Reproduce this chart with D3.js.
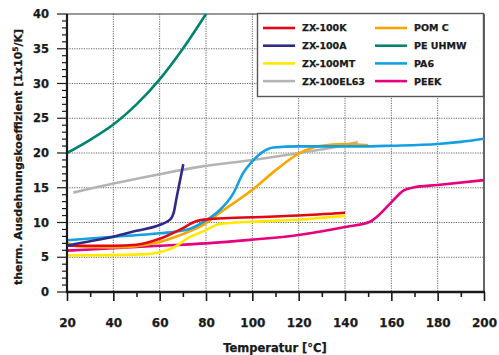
<!DOCTYPE html>
<html>
<head>
<meta charset="utf-8">
<script src="https://cdn.jsdelivr.net/npm/d3@7"></script>
<style>
  html, body { margin: 0; padding: 0; background: #fff; }
  svg { display: block; }
  text { font-family: "DejaVu Sans", sans-serif; font-weight: bold; fill: #1a1a1a; stroke: #1a1a1a; stroke-width: 0.25px; }
</style>
</head>
<body>
<svg id="chart" width="499" height="355"></svg>
<script>
// Series: [temperature °C, coefficient 1e-5/K]
const seriesNames = ["ZX-100K", "ZX-100A", "ZX-100MT", "ZX-100EL63", "POM C", "PE UHMW", "PA6", "PEEK"];
const seriesColors = ["#e30613", "#2e2a86", "#ffe900", "#b4b4b4", "#f7a800", "#00836f", "#14a0e0", "#e5007e"];

const zx100K = [[20, 6.65], [40, 6.65], [50, 6.8], [60, 7.65], [69, 9.0], [76, 10.2], [80, 10.45], [90, 10.65], [100, 10.75], [120, 11.0], [140, 11.4]];
const zx100A = [[20, 6.7], [30, 7.3], [40, 7.95], [50, 8.8], [60, 9.65], [64, 10.3], [65.5, 10.9], [66.2, 11.6], [67.2, 13.4], [68.7, 15.9], [70.2, 18.4]];
const zx100MT = [[20, 5.25], [40, 5.3], [55, 5.45], [62, 5.9], [66, 6.4], [72, 7.7], [80, 8.9], [86, 9.8], [100, 10.1], [120, 10.4], [140, 10.95]];
const zx100EL63 = [[22.7, 14.3], [40, 15.6], [60, 16.95], [77, 18.0], [100, 19.0], [120, 20.0], [140, 21.15], [145.5, 21.6]];
const pomC = [[20, 7.1], [24, 6.6], [40, 6.4], [50, 6.6], [60, 7.2], [69, 8.2], [80, 9.9], [86, 11.4], [100, 14.7], [110, 17.5], [120, 19.9], [129, 21.0], [140, 21.3], [150, 21.1]];
const peUhmw = [[20, 20.0], [30, 21.9], [40, 24.1], [50, 27.0], [60, 30.6], [70, 35.0], [80, 40.0]];
const pa6 = [[20, 7.45], [40, 7.95], [60, 8.45], [71.7, 8.95], [80, 10.3], [86, 11.8], [91.8, 14.2], [96, 17.1], [100, 18.8], [104.7, 20.2], [109, 20.8], [120, 20.95], [146, 20.95], [160, 21.05], [180, 21.3], [190, 21.6], [200, 22.05]];
const peek = [[20, 5.95], [40, 6.3], [60, 6.65], [80, 7.0], [99, 7.5], [120, 8.2], [140, 9.35], [150.8, 10.1], [153.7, 10.8], [160, 12.9], [165.2, 14.6], [169.5, 15.05], [180, 15.4], [200, 16.1]];

const seriesData = [zx100K, zx100A, zx100MT, zx100EL63, pomC, peUhmw, pa6, peek];

const xTicks = [20, 40, 60, 80, 100, 120, 140, 160, 180, 200];
const yTicks = [0, 5, 10, 15, 20, 25, 30, 35, 40];
const xTitle = "Temperatur [°C]";

const svg = d3.select("#chart");
const L = 67, R = 484, T = 14, B = 292;

const x = d3.scaleLinear().domain([20, 200]).range([L, R]);
const y = d3.scaleLinear().domain([0, 40]).range([B, T]);

// dotted grid
const grid = svg.append("g");
grid.selectAll("line.v").data(xTicks.filter(d => d > 20 && d < 200)).join("line")
  .attr("x1", d => x(d)).attr("x2", d => x(d)).attr("y1", T).attr("y2", B)
  .attr("stroke", "#666").attr("stroke-width", 1).attr("stroke-dasharray", "1.2,1.2");
grid.selectAll("line.h").data(yTicks.filter(d => d > 0 && d < 40)).join("line")
  .attr("x1", L).attr("x2", R).attr("y1", d => y(d)).attr("y2", d => y(d))
  .attr("stroke", "#666").attr("stroke-width", 1).attr("stroke-dasharray", "1.2,1.2");

// frame top/right
svg.append("line").attr("x1", L).attr("x2", R).attr("y1", T).attr("y2", T).attr("stroke", "#333").attr("stroke-width", 1.2);
svg.append("line").attr("x1", R).attr("x2", R).attr("y1", T).attr("y2", B).attr("stroke", "#333").attr("stroke-width", 1.5);

// series lines (smooth curve for the PE UHMW arc, monotone elsewhere)
const line = d3.line().x(d => x(d[0])).y(d => y(d[1])).curve(d3.curveMonotoneX);
const arc = d3.line().x(d => x(d[0])).y(d => y(d[1])).curve(d3.curveCatmullRom.alpha(0.5));
const order = [3, 5, 7, 4, 6, 2, 0, 1];
svg.append("g").selectAll("path").data(order).join("path")
  .attr("d", i => (i === 5 ? arc : line)(seriesData[i]))
  .attr("fill", "none")
  .attr("stroke", i => seriesColors[i])
  .attr("stroke-width", 2.6)
  .attr("stroke-linecap", "butt")
  .attr("stroke-linejoin", "round");

// x axis
const xAxis = d3.axisBottom(x).tickValues(d3.range(20, 201, 10)).tickSize(0).tickFormat("");
const gx = svg.append("g").attr("transform", `translate(0,${B})`).call(xAxis);
gx.select(".domain").remove();
gx.selectAll(".tick line").remove();
gx.selectAll(".tick").append("line")
  .attr("y1", 0).attr("y2", d => d % 20 === 0 ? 9 : 5)
  .attr("stroke", "#1a1a1a").attr("stroke-width", 1.6);
gx.selectAll(".tick").filter(d => d % 20 === 0).append("text")
  .attr("y", 35).attr("text-anchor", "middle")
  .style("font-size", "12px")
  .text(d => d);

// y axis
const gy = svg.append("g").attr("transform", `translate(${L},0)`);
gy.selectAll("line").data(d3.range(0, 41, 1)).join("line")
  .attr("x1", d => d % 5 === 0 ? -10 : -5).attr("x2", 0)
  .attr("y1", d => y(d)).attr("y2", d => y(d))
  .attr("stroke", "#1a1a1a").attr("stroke-width", 1.2);
gy.selectAll("text").data(yTicks).join("text")
  .attr("x", -18).attr("y", d => y(d)).attr("dy", "0.36em")
  .attr("text-anchor", "end").style("font-size", "11.5px")
  .text(d => d);

// axis lines
svg.append("line").attr("x1", L).attr("x2", L).attr("y1", T).attr("y2", B + 1).attr("stroke", "#1a1a1a").attr("stroke-width", 2.2);
svg.append("line").attr("x1", L - 1).attr("x2", R + 1).attr("y1", B).attr("y2", B).attr("stroke", "#1a1a1a").attr("stroke-width", 2.4);

// axis titles
svg.append("text").attr("x", 275).attr("y", 352).attr("text-anchor", "middle")
  .style("font-size", "11.5px").text(xTitle);

const yt = svg.append("text")
  .attr("transform", "translate(22,157) rotate(-90)")
  .attr("text-anchor", "middle").style("font-size", "11px");
yt.append("tspan").text("therm. Ausdehnungskoeffizient [1x10");
yt.append("tspan").attr("dy", -4).style("font-size", "7.5px").text("5");
yt.append("tspan").attr("dy", 4).text("/K]");

// legend
const lg = svg.append("g");
lg.append("rect").attr("x", 257.5).attr("y", 13.5).attr("width", 226).attr("height", 83)
  .attr("fill", "#fff").attr("stroke", "#555").attr("stroke-width", 1.4);
const items = lg.selectAll("g.item").data(seriesNames.map((n, i) => ({ n, i }))).join("g")
  .attr("transform", d => `translate(${d.i < 4 ? 263 : 375},${28 + (d.i % 4) * 17.7})`);
items.append("line").attr("x1", 0).attr("x2", 32).attr("y1", 0).attr("y2", 0)
  .attr("stroke", d => seriesColors[d.i]).attr("stroke-width", 2.6);
items.append("text").attr("x", 39).attr("dy", "0.36em").style("font-size", "9.5px").text(d => d.n);
</script>
</body>
</html>
